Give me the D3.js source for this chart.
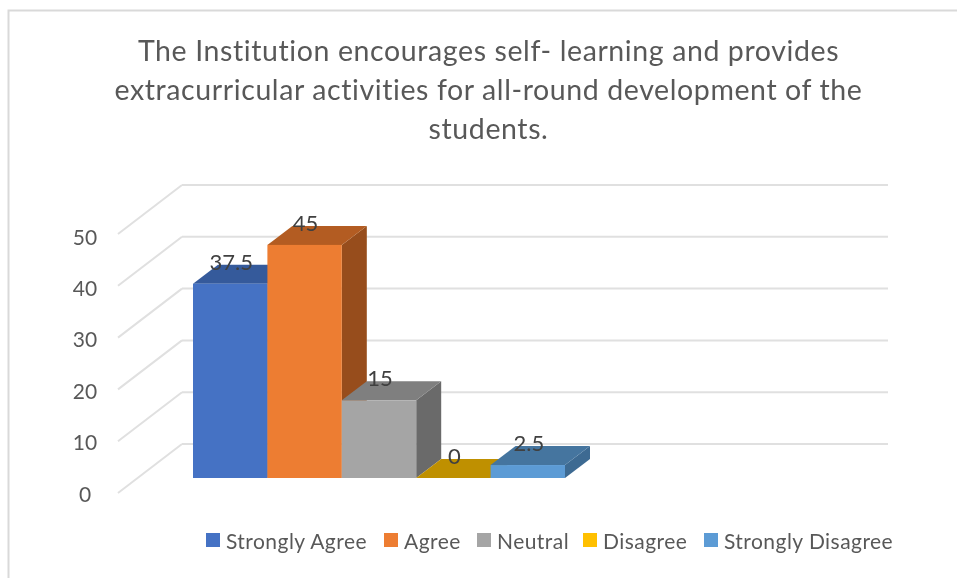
<!DOCTYPE html>
<html>
<head>
<meta charset="utf-8">
<script src="https://cdn.jsdelivr.net/npm/d3@7"></script>
<style>
body { margin: 0; background: #fff; }
text { font-family: Lato, "Open Sans", sans-serif; font-variant-ligatures: none; }
</style>
</head>
<body>
<script>
// Chart values
const categories = ["Strongly Agree", "Agree", "Neutral", "Disagree", "Strongly Disagree"];
const values = [37.5, 45, 15, 0, 2.5];
const yTicks = [0, 10, 20, 30, 40, 50];
const colors = ["#4472c4", "#ed7d31", "#a5a5a5", "#ffc000", "#5b9bd5"];
const topColors = ["#355a9b", "#b35c20", "#7f7f7f", "#bf9000", "#44759f"];
const sideColors = ["#2f5090", "#974e1c", "#6b6b6b", "#a67d00", "#3d6a92"];
const titleLines = [
    "The Institution encourages self- learning and provides",
    "extracurricular activities for all-round development of the",
    "students."
];

const width = 957;
const height = 578;
const svg = d3.select("body").append("svg")
    .attr("width", width)
    .attr("height", height)
    .style("display", "block");

// The reference is a slightly soft screenshot
svg.append("filter").attr("id", "soft")
    .append("feGaussianBlur").attr("stdDeviation", 0.45);
const root = svg.append("g").attr("filter", "url(#soft)");

// Frame of the chart (only top and left show, the shot is cropped)
root.append("path")
    .attr("d", "M8.5,578V10.5H957")
    .attr("fill", "none")
    .attr("stroke", "#d9d9d9")
    .attr("stroke-width", 2);

// Title
root.selectAll(".title").data(titleLines).enter().append("text")
    .attr("class", "title")
    .attr("x", 488.5)
    .attr("y", (d, i) => 61 + i * 39)
    .attr("text-anchor", "middle")
    .attr("font-size", 28.5)
    .attr("letter-spacing", 0.6)
    .attr("fill", "#595959")
    .text(d => d);

// Scales, front face of the bars
const y = d3.scaleLinear().domain([0, 50]).range([478, 219]);
const x = d3.scaleBand().domain(categories).range([193, 565]);
// Tick labels sit on a slightly tighter step than the gridlines
const yLabel = d3.scaleLinear().domain([0, 50]).range([501.5, 244.5]);
const depthX = 25;
const depthY = -19;
// Back wall and left wall of the 3D box
const wallX = 182;
const wallRight = 888;
const wallShiftY = -34;
const floorX = 118;
const floorShiftY = 15;

// Gridlines on the back wall and side wall
const grid = root.append("g");
grid.selectAll(".back").data(yTicks).enter().append("line")
    .attr("x1", wallX).attr("x2", wallRight)
    .attr("y1", d => y(d) + wallShiftY)
    .attr("y2", d => y(d) + wallShiftY)
    .attr("stroke", "#e0e0e0").attr("stroke-width", 2);
grid.selectAll(".side").data(yTicks).enter().append("line")
    .attr("x1", floorX).attr("x2", wallX)
    .attr("y1", d => y(d) + floorShiftY)
    .attr("y2", d => y(d) + wallShiftY)
    .attr("stroke", "#e0e0e0").attr("stroke-width", 2);

// Y axis labels
root.selectAll(".tick").data(yTicks).enter().append("text")
    .attr("class", "tick")
    .attr("x", 85)
    .attr("y", d => yLabel(d))
    .attr("text-anchor", "middle")
    .attr("font-size", 21)
    .attr("fill", "#595959")
    .text(d => d);

// Bars: side, top, then front
const bars = root.selectAll(".bar").data(categories).enter().append("g").attr("class", "bar");
const pts = a => a.map(p => p.join(",")).join(" ");

bars.append("polygon")
    .attr("points", (d, i) => {
        const r = x(d) + x.bandwidth();
        return pts([[r, y(values[i])], [r + depthX, y(values[i]) + depthY], [r + depthX, y(0) + depthY], [r, y(0)]]);
    })
    .attr("fill", (d, i) => sideColors[i]);
bars.append("polygon")
    .attr("points", (d, i) => {
        const l = x(d), r = l + x.bandwidth(), t = y(values[i]);
        return pts([[l, t], [l + depthX, t + depthY], [r + depthX, t + depthY], [r, t]]);
    })
    .attr("fill", (d, i) => topColors[i]);
bars.append("rect")
    .attr("x", d => x(d))
    .attr("y", (d, i) => y(values[i]))
    .attr("width", x.bandwidth())
    .attr("height", (d, i) => y(0) - y(values[i]))
    .attr("fill", (d, i) => colors[i]);

// Data labels go on top of every bar
root.selectAll(".value").data(categories).enter().append("text")
    .attr("class", "value")
    .attr("x", d => x(d) + x.bandwidth() / 2 + 1)
    .attr("y", (d, i) => y(values[i]) - 14)
    .attr("text-anchor", "middle")
    .attr("font-size", 22)
    .attr("fill", "#404040")
    .text((d, i) => values[i]);

// Legend
const legendX = [206, 384, 477, 583, 704];
const legend = root.selectAll(".legend").data(categories).enter().append("g").attr("class", "legend")
    .attr("transform", (d, i) => `translate(${legendX[i]},533)`);
legend.append("rect").attr("width", 14).attr("height", 14).attr("fill", (d, i) => colors[i]);
legend.append("text")
    .attr("x", 20)
    .attr("y", 16)
    .attr("font-size", 21)
    .attr("letter-spacing", 0.45)
    .attr("fill", "#595959")
    .text(d => d);
</script>
</body>
</html>
